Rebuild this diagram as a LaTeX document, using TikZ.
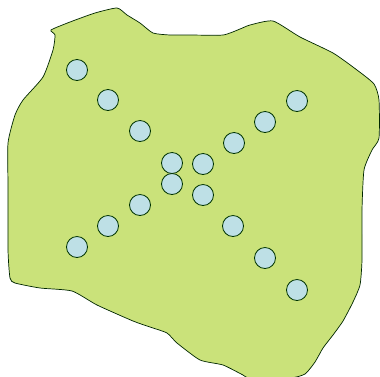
\documentclass[tikz,border=0pt]{standalone}
\begin{document}
\begin{tikzpicture}[x=1pt,y=-1pt,
  region/.style={fill=areagreen,draw=black!85!green,line width=0.7pt},
  site/.style={circle,fill=siteblue,draw=black!80!green,line width=0.8pt,minimum size=21pt,inner sep=0pt}]
\definecolor{areagreen}{RGB}{202,226,122}
\definecolor{siteblue}{RGB}{190,224,230}
\useasboundingbox (0,0) rectangle (380,376);
\fill[white] (0,0) rectangle (380,376);
\draw[region] plot[smooth cycle,tension=0.35] coordinates {
 (51,30) (70,22) (95,13) (117,8) (127,15) (140,23) (153,33) (170,35) (190,35)
 (223,35) (240,29) (250,25) (273,21) (300,37) (333,53) (357,70) (374,84)
 (379,100) (379,138) (372,150) (364,170) (362,210) (362,260) (360,285)
 (353,302) (343,321) (333,335) (323,348) (315,362) (305,374) (290,378)
 (250,378) (243,375) (223,365) (200,360) (177,343) (167,333) (150,327)
 (133,321) (97,305) (72,291) (40,288) (15,283) (10,278) (8,250) (8,187)
 (8,143) (15,115) (23,100) (43,77) (53,50) (55,35)};
% upper-left to centre
\node[site] (a1) at (77,70) {};
\node[site] (a2) at (108,100) {};
\node[site] (a3) at (140,131) {};
\node[site] (a4) at (172,163) {};
% upper-right to centre
\node[site] (b1) at (297,101) {};
\node[site] (b2) at (265,122) {};
\node[site] (b3) at (234,143) {};
\node[site] (b4) at (203,164) {};
% lower-left to centre
\node[site] (c1) at (77,247) {};
\node[site] (c2) at (108,226) {};
\node[site] (c3) at (140,205) {};
\node[site] (c4) at (172,184) {};
% lower-right to centre
\node[site] (d1) at (203,195) {};
\node[site] (d2) at (233,226) {};
\node[site] (d3) at (265,258) {};
\node[site] (d4) at (297,290) {};
\end{tikzpicture}
\end{document}
